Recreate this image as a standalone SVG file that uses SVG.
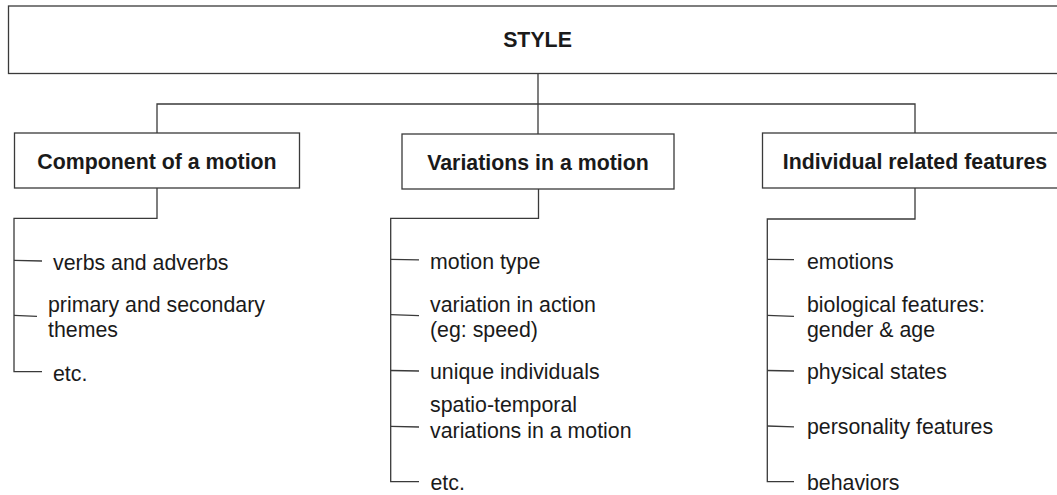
<svg xmlns="http://www.w3.org/2000/svg" width="1057" height="495" viewBox="0 0 1057 495">
<style>
.box{fill:#ffffff;stroke:#3a3a3a;stroke-width:1.3}
.ln{fill:none;stroke:#3a3a3a;stroke-width:1.3}
.h{font-family:"Liberation Sans",Arial,sans-serif;font-weight:bold;font-size:21.33px;fill:#1a1a1a;text-anchor:middle}
.t{font-family:"Liberation Sans",Arial,sans-serif;font-size:21.33px;fill:#1a1a1a}
</style>
<rect x="0" y="0" width="1057" height="495" fill="#ffffff"/>
<g id="connectors">
<path class="ln" d="M538,73.5 V134"/>
<path class="ln" d="M157,133 V104 H915 V133"/>
<path class="ln" d="M157,188 V218.3 H14 V371.7 H42"/>
<path class="ln" d="M14,260.3 L42,261"/>
<path class="ln" d="M14,315.3 L37,316.3"/>
<path class="ln" d="M538.5,189 V218.3 H390.7 V481.7 H419"/>
<path class="ln" d="M390.7,259.3 L419,259.8"/>
<path class="ln" d="M390.7,314.7 L419,315.7"/>
<path class="ln" d="M390.7,370.5 L419,371"/>
<path class="ln" d="M390.7,426.3 L419,427"/>
<path class="ln" d="M915,187.7 V219 H767.3 V481.7 H794"/>
<path class="ln" d="M767.3,259.3 L794,259.6"/>
<path class="ln" d="M767.3,315.3 L794,316.3"/>
<path class="ln" d="M767.3,370.5 L794,371"/>
<path class="ln" d="M767.3,426 L794,426.8"/>
</g>
<g id="style">
<rect class="box" x="8.5" y="6" width="1059" height="67.5"/>
<text class="h" x="537.5" y="47">STYLE</text>
</g>
<g id="component">
<rect class="box" x="14.5" y="133" width="285" height="55"/>
<text class="h" x="157" y="168.5">Component of a motion</text>
</g>
<g id="variations">
<rect class="box" x="402" y="134" width="272" height="55"/>
<text class="h" x="538" y="169.5">Variations in a motion</text>
</g>
<g id="individual">
<rect class="box" x="762.5" y="133" width="305" height="55"/>
<text class="h" x="915" y="168.5">Individual related features</text>
</g>
<g id="component-items">
<text class="t" x="53" y="270">verbs and adverbs</text>
<text class="t" x="48" y="311.7">primary and secondary</text>
<text class="t" x="48" y="336.7">themes</text>
<text class="t" x="53" y="381">etc.</text>
</g>
<g id="variations-items">
<text class="t" x="430" y="269.3">motion type</text>
<text class="t" x="430" y="312">variation in action</text>
<text class="t" x="430" y="337">(eg: speed)</text>
<text class="t" x="430" y="379.3">unique individuals</text>
<text class="t" x="430" y="412">spatio-temporal</text>
<text class="t" x="430" y="437.5">variations in a motion</text>
<text class="t" x="430.5" y="490">etc.</text>
</g>
<g id="individual-items">
<text class="t" x="807" y="269.3">emotions</text>
<text class="t" x="807" y="311.7">biological features:</text>
<text class="t" x="807" y="336.7">gender &amp; age</text>
<text class="t" x="807" y="379.3">physical states</text>
<text class="t" x="807" y="434">personality features</text>
<text class="t" x="807" y="490">behaviors</text>
</g>
</svg>
